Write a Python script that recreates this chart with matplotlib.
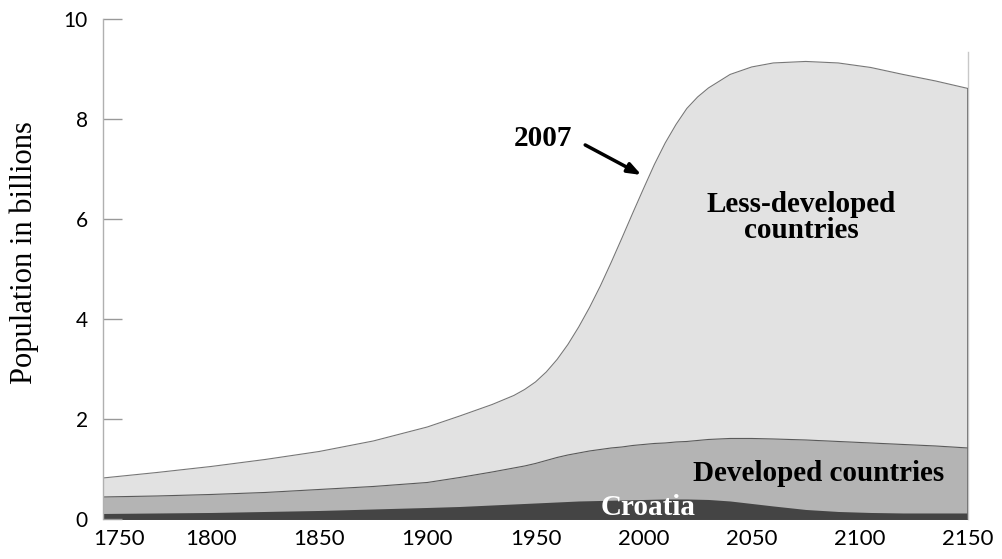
import matplotlib
matplotlib.use("Agg")
import matplotlib.pyplot as plt
from matplotlib.transforms import ScaledTranslation

# years sampled along the curves
years = [1750, 1775, 1800, 1825, 1850, 1875, 1900, 1915, 1930, 1940,
         1945, 1950, 1955, 1960, 1965, 1970, 1975, 1980, 1985, 1990,
         1995, 2000, 2005, 2010, 2015, 2020, 2025, 2030, 2040, 2050,
         2060, 2075, 2090, 2105, 2120, 2135, 2150]

# cumulative tops of each band (billions)
total = [0.83, 0.94, 1.06, 1.20, 1.36, 1.57, 1.85, 2.07, 2.30, 2.48,
         2.60, 2.75, 2.95, 3.20, 3.50, 3.85, 4.24, 4.67, 5.14, 5.63,
         6.13, 6.62, 7.10, 7.53, 7.90, 8.22, 8.45, 8.63, 8.90, 9.05,
         9.13, 9.16, 9.13, 9.04, 8.90, 8.77, 8.62]
developed = [0.45, 0.47, 0.50, 0.54, 0.60, 0.66, 0.74, 0.84, 0.95, 1.03,
             1.07, 1.12, 1.18, 1.24, 1.29, 1.33, 1.37, 1.40, 1.43, 1.45,
             1.48, 1.50, 1.52, 1.53, 1.55, 1.56, 1.58, 1.60, 1.62, 1.62,
             1.61, 1.59, 1.56, 1.53, 1.50, 1.47, 1.43]
croatia = [0.12, 0.13, 0.14, 0.16, 0.18, 0.21, 0.24, 0.26, 0.29, 0.31,
           0.32, 0.33, 0.34, 0.35, 0.36, 0.37, 0.375, 0.38, 0.385, 0.39,
           0.395, 0.40, 0.405, 0.41, 0.41, 0.41, 0.405, 0.40, 0.37, 0.32,
           0.27, 0.20, 0.16, 0.14, 0.13, 0.13, 0.13]

x_ticks = [1750, 1800, 1850, 1900, 1950, 2000, 2050, 2100, 2150]
y_ticks = [0, 2, 4, 6, 8, 10]

serif = "Liberation Serif"
sans = "Lato"

fig = plt.figure(figsize=(10.02, 5.59), dpi=100)
ax = fig.add_axes([0.1028, 0.0707, 0.8632, 0.8945])

ax.fill_between(years, 0, total, color="#e2e2e2", lw=0)
ax.plot(years, total, color="#777777", lw=0.8)
ax.fill_between(years, 0, developed, color="#b4b4b4", lw=0)
ax.plot(years, developed, color="#5a5a5a", lw=0.8)
ax.fill_between(years, 0, croatia, color="#444444", lw=0)
ax.vlines(years[-1], 0, total[-1], color="#555555", lw=1.2)

ax.set_xlim(1750, 2150)
ax.set_ylim(0, 10)

for s in ["top", "bottom"]:
    ax.spines[s].set_visible(False)
ax.spines["left"].set_color("#b0b0b0")
ax.spines["left"].set_linewidth(1)
ax.spines["right"].set_color("#c8c8c8")
ax.spines["right"].set_linewidth(1)
ax.spines["right"].set_bounds(0, 9.35)

ax.set_xticks(x_ticks)
ax.set_yticks(y_ticks)
ax.tick_params(axis="x", length=0, pad=7, labelsize=16)
ax.tick_params(axis="y", direction="in", length=14, width=1, color="#999999",
               pad=11, labelsize=15)
for lab in ax.get_xticklabels() + ax.get_yticklabels():
    lab.set_family(sans)
# first year label sits a little right of the axis in the original
first = ax.get_xticklabels()[0]
first.set_transform(first.get_transform() +
                    ScaledTranslation(16 / 100, 0, fig.dpi_scale_trans))

ax.set_ylabel("Population in billions", family=serif, fontsize=22)
ax.yaxis.set_label_coords(-0.074, 0.533)

ax.text(2073, 6.03, "Less-developed\ncountries", family=serif, weight="bold",
        fontsize=21, ha="center", va="center", linespacing=0.95)
ax.text(2081, 0.92, "Developed countries", family=serif, weight="bold",
        fontsize=21, ha="center", va="center")
ax.text(2002, 0.23, "Croatia", family=serif, weight="bold", color="white",
        fontsize=21, ha="center", va="center")
ax.text(1953.5, 7.61, "2007", family=serif, weight="bold", fontsize=21,
        ha="center", va="center")
ax.annotate("", xy=(1999, 6.89), xytext=(1973, 7.49),
            arrowprops=dict(arrowstyle="-|>,head_length=0.8,head_width=0.3",
                            lw=2.5, color="black", shrinkA=0, shrinkB=0))

fig.savefig("out.png", dpi=100)
plt.close(fig)
